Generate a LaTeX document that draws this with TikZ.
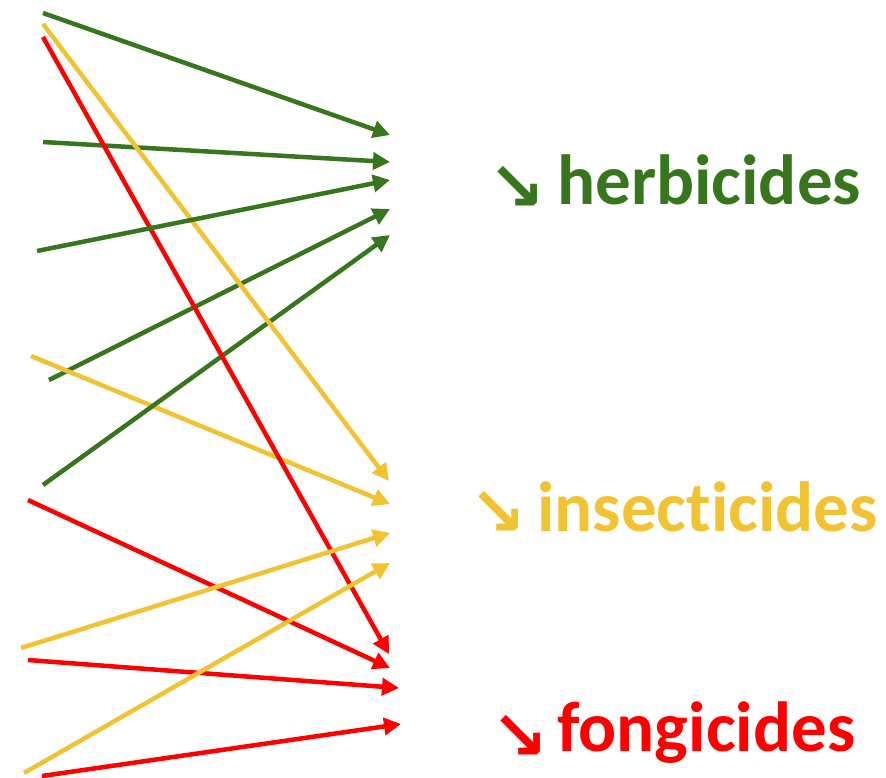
\documentclass[tikz,border=0pt]{standalone}
\usepackage{fontspec}
\setmainfont{Carlito}[Ligatures=NoCommon]
\newfontfamily\arrowfont{DejaVu Sans}
\definecolor{pgreen}{RGB}{56,118,29}
\definecolor{pyellow}{RGB}{241,194,50}
\definecolor{pred}{RGB}{255,0,0}
\usetikzlibrary{arrows.meta}

\begin{document}
\begin{tikzpicture}[
  x=1pt,y=-1pt,
  link/.style={line width=4.5pt,-{Triangle[length=17pt,width=17pt]}},
  catname/.style={anchor=base west,inner sep=0pt,font=\fontsize{71}{80}\selectfont\bfseries},
  catsign/.style={anchor=base west,inner sep=0pt,font=\fontsize{68}{80}\selectfont\arrowfont\bfseries},
]
  \useasboundingbox (0,0) rectangle (886,777);

  % Labels
  \node[catsign,text=pgreen] (hsign) at (488,210) {↘};
  \node[catname,text=pgreen] (herb) at (557,204) {herbicides};
  \node[catsign,text=pyellow] (isign) at (469,535) {↘};
  \node[catname,text=pyellow] (insect) at (537,531) {insecticides};
  \node[catsign,text=pred] (fsign) at (491,759) {↘};
  \node[catname,text=pred] (fong) at (557,751) {fongicides};

  % Start points
  \coordinate (g1) at (43,13);
  \coordinate (g2) at (43,142);
  \coordinate (g3) at (37,251);
  \coordinate (g4) at (49,380);
  \coordinate (g5) at (43,485);
  \coordinate (y1) at (43,24);
  \coordinate (y2) at (31,356);
  \coordinate (y3) at (21,648);
  \coordinate (y4) at (24,773);
  \coordinate (r1) at (43,37);
  \coordinate (r2) at (28,500);
  \coordinate (r3) at (28,660);
  \coordinate (r4) at (42,776);

  % End points
  \coordinate (G1) at (390,135);
  \coordinate (G2) at (390,162);
  \coordinate (G3) at (390,180);
  \coordinate (G4) at (390,209);
  \coordinate (G5) at (390,235);
  \coordinate (Y1) at (389,481);
  \coordinate (Y2) at (390,504);
  \coordinate (Y3) at (390,533);
  \coordinate (Y4) at (390,563);
  \coordinate (R1) at (389,654);
  \coordinate (R2) at (390,668);
  \coordinate (R3) at (399,688);
  \coordinate (R4) at (401,724);

  % Links, back to front
  \draw[link,pgreen] (g2) -- (G2);
  \draw[link,pgreen] (g4) -- (G4);
  \draw[link,pyellow] (y2) -- (Y2);
  \draw[link,pgreen] (g5) -- (G5);
  \draw[link,pred] (r1) -- (R1);
  \draw[link,pyellow] (y1) -- (Y1);
  \draw[link,pgreen] (g1) -- (G1);
  \draw[link,pgreen] (g3) -- (G3);
  \draw[link,pred] (r2) -- (R2);
  \draw[link,pred] (r3) -- (R3);
  \draw[link,pred] (r4) -- (R4);
  \draw[link,pyellow] (y3) -- (Y3);
  \draw[link,pyellow] (y4) -- (Y4);
\end{tikzpicture}
\end{document}
